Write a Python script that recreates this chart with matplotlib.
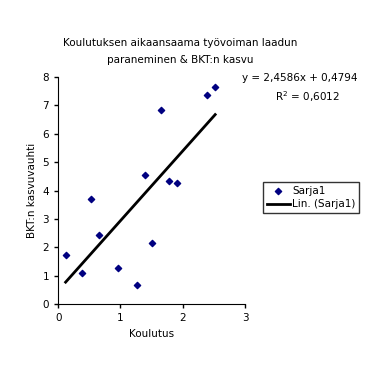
import matplotlib
matplotlib.use("Agg")
import numpy as np
import matplotlib.pyplot as plt

plt.rcParams['font.family'] = ['DejaVu Sans']

# data
koulutus = [0.12, 0.38, 0.53, 0.65, 0.96, 1.27, 1.40, 1.51, 1.65, 1.78, 1.90, 2.39, 2.52]
bkt_kasvu = [1.73, 1.08, 3.72, 2.43, 1.26, 0.69, 4.53, 2.17, 6.85, 4.34, 4.28, 7.37, 7.64]
slope = 2.4586
intercept = 0.4794
r2 = 0.6012

fig = plt.figure(figsize=(3.8, 3.7), dpi=100)
ax = fig.add_axes([0.153, 0.178, 0.492, 0.614])

ax.scatter(koulutus, bkt_kasvu, marker='D', s=10, color='#000080', zorder=3, label='Sarja1')
xs = np.array([min(koulutus), max(koulutus)])
ax.plot(xs, slope * xs + intercept, color='black', lw=2, label='Lin. (Sarja1)')

ax.set_xlim(0, 3)
ax.set_ylim(0, 8)
ax.set_xticks([0, 1, 2, 3])
ax.set_yticks(range(0, 9))
for s in ['top', 'right']:
    ax.spines[s].set_visible(False)
ax.tick_params(labelsize=7.5, length=3, width=1)
ax.set_xlabel('Koulutus', fontsize=7.5)
ax.set_ylabel('BKT:n kasvuvauhti', fontsize=7.5)

fig.text(0.475, 0.86, 'Koulutuksen aikaansaama työvoiman laadun\nparaneminen & BKT:n kasvu',
         ha='center', va='center', fontsize=7.5, linespacing=1.9)
fig.text(0.789, 0.79, 'y = 2,4586x + 0,4794', ha='center', va='center', fontsize=7.5)
fig.text(0.808, 0.738, 'R$^2$ = 0,6012', ha='center', va='center', fontsize=7.5)

leg = fig.legend(loc='upper left', bbox_to_anchor=(0.693, 0.508), fontsize=7.5,
                 frameon=True, fancybox=False, edgecolor='black', handlelength=2.2,
                 borderpad=0.35, labelspacing=0.35, handletextpad=0.2, borderaxespad=0)
leg.get_frame().set_linewidth(1)

fig.savefig('out.png', dpi=100)
